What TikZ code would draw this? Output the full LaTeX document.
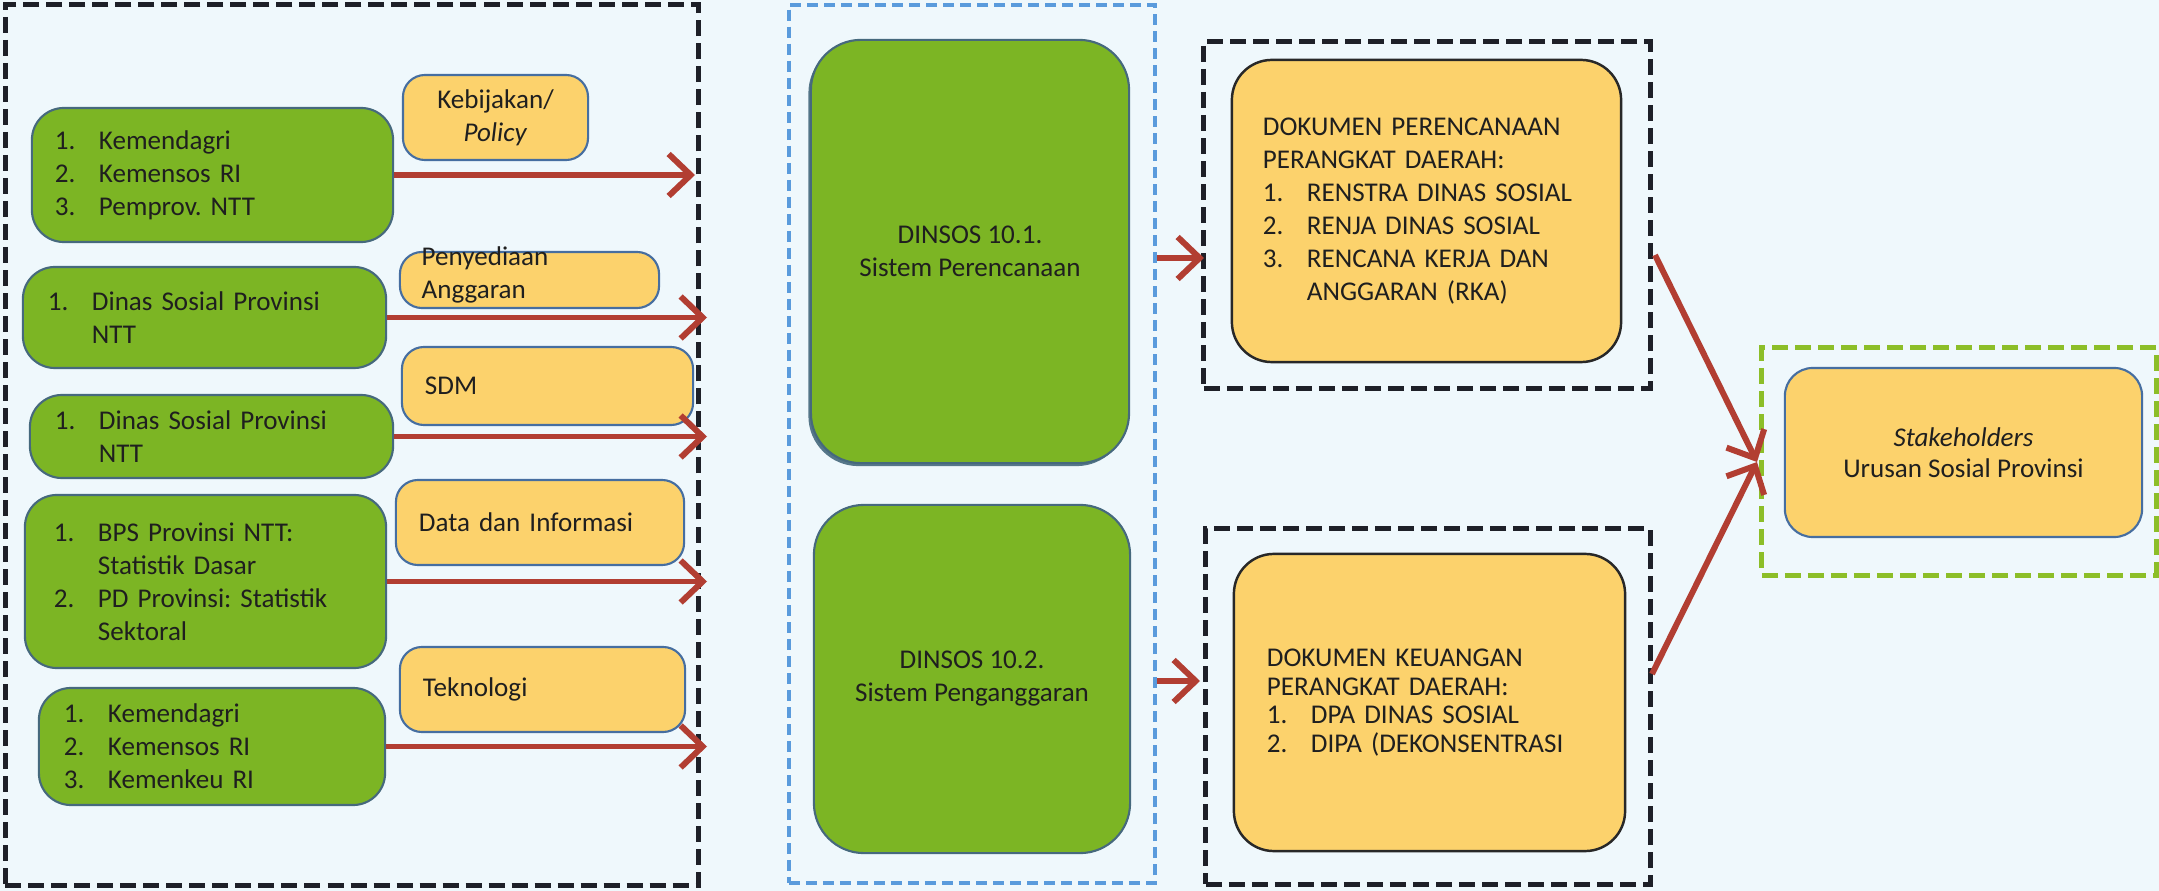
\documentclass[tikz,border=0pt]{standalone}
\usepackage{fontspec}
\setmainfont{Carlito}
\usetikzlibrary{arrows.meta,shadows}
\definecolor{bgc}{RGB}{239,248,252}
\definecolor{gfill}{RGB}{124,181,36}
\definecolor{gline}{RGB}{70,105,125}
\definecolor{yfill}{RGB}{252,210,108}
\definecolor{yline}{RGB}{70,110,160}
\definecolor{docline}{RGB}{40,40,40}
\definecolor{arrowc}{RGB}{178,62,50}
\definecolor{dashk}{RGB}{30,32,40}
\definecolor{dashb}{RGB}{90,155,220}
\definecolor{dashg}{RGB}{140,190,40}
\newcommand\txt{\fontsize{7.7}{9.4}\selectfont}
\newcommand\itm[2]{\makebox[0.44cm][l]{#1}#2}
\newcommand\cnt[1]{\hspace*{0.44cm}#1}
\frenchspacing

\begin{document}
\begin{tikzpicture}
        [x=0.01cm,y=-0.01cm,
        every node/.style={inner sep=0,font=\txt,text=black!88},
        src/.style={draw=gline,fill=gfill,line width=0.6pt,rounded corners=0.32cm,align=left},
        tag/.style={draw=yline,fill=yfill,line width=0.6pt,rounded corners=0.22cm,align=left},
        sys/.style={draw=gline,fill=gfill,line width=0.6pt,rounded corners=0.5cm,align=center},
        doc/.style={draw=docline,fill=yfill,line width=0.7pt,rounded corners=0.4cm,align=left},
        wrap/.style={draw=#1,line width=1.4pt,dash pattern=on 0.16cm off 0.07cm},
        flow/.style={draw=arrowc,line width=1.7pt,-{Straight Barb[length=0.22cm,width=0.42cm]}}]

        \useasboundingbox (0,0) rectangle (2159,891);
        \fill[bgc] (0,0) rectangle (2159,891);

        \node[wrap=dashk,minimum width=6.925cm,minimum height=8.8cm] (srcFrame) at (351.75,445) {};
        \node[wrap=dashb,line width=1.1pt,dash pattern=on 0.11cm off 0.06cm,minimum width=3.66cm,minimum height=8.78cm] (sysFrame) at (972,444) {};
        \node[wrap=dashk,minimum width=4.46cm,minimum height=3.46cm] (planWrap) at (1427,215) {};
        \node[wrap=dashk,minimum width=4.44cm,minimum height=3.55cm] (finWrap) at (1428,706.5) {};
        \node[wrap=dashg,minimum width=3.94cm,minimum height=2.27cm] (stakeFrame) at (1959,461.5) {};

        \node[src,minimum height=1.34cm,inner xsep=0.23cm,text width=3.15cm] (srcA) at (212.5,175)
            {\itm{1.}{Kemendagri}\\\itm{2.}{Kemensos RI}\\\itm{3.}{Pemprov. NTT}};
        \node[src,minimum height=1.01cm,inner xsep=0.25cm,text width=3.13cm] (srcB) at (204.5,317.5)
            {\itm{1.}{Dinas Sosial Provinsi}\\\cnt{NTT}};
        \node[src,minimum height=0.83cm,inner xsep=0.25cm,text width=3.13cm] (srcC) at (211.5,436.5)
            {\itm{1.}{Dinas Sosial Provinsi}\\\cnt{NTT}};
        \node[src,minimum height=1.73cm,inner xsep=0.29cm,text width=3.03cm] (srcD) at (205.5,581.5)
            {\itm{1.}{BPS Provinsi NTT:}\\\cnt{Statistik Dasar}\\\itm{2.}{PD Provinsi: Statistik}\\\cnt{Sektoral}};
        \node[src,minimum height=1.17cm,inner xsep=0.25cm,text width=2.96cm] (srcE) at (212,746.5)
            {\itm{1.}{Kemendagri}\\\itm{2.}{Kemensos RI}\\\itm{3.}{Kemenkeu RI}};

        \node[tag,align=center,minimum width=1.85cm,minimum height=0.85cm] (kebBox) at (495.5,117.5) {Kebijakan/\\\textit{Policy}};
        \node[tag,minimum width=2.59cm,minimum height=0.56cm] (penyBox) at (529.5,280) {};
        \node[anchor=west,align=left] (penyTxt) at (421,275) {Penyediaan\\Anggaran};
        \node[tag,minimum height=0.78cm,inner xsep=0.23cm,text width=2.45cm] (sdmBox) at (547.5,386) {SDM};
        \node[tag,minimum height=0.85cm,inner xsep=0.23cm,text width=2.42cm] (dataBox) at (540,522.5) {Data dan Informasi};
        \node[tag,minimum height=0.85cm,inner xsep=0.23cm,text width=2.39cm] (tekBox) at (542.5,689.5) {Teknologi};

        \node[sys,drop shadow={shadow xshift=-0.025cm,shadow yshift=-0.03cm,fill=gline,opacity=0.9},minimum width=3.18cm,minimum height=4.23cm] (plan) at (970,251.5) {DINSOS 10.1.\\Sistem Perencanaan};
        \node[sys,minimum width=3.16cm,minimum height=3.48cm] (budget) at (972,679) {DINSOS 10.2.\\Sistem Penganggaran};

        \node[doc,minimum height=3.02cm,inner xsep=0.31cm,text width=3.27cm] (planDoc) at (1426.5,211)
            {DOKUMEN PERENCANAAN\\PERANGKAT DAERAH:\\\itm{1.}{RENSTRA DINAS SOSIAL}\\\itm{2.}{RENJA DINAS SOSIAL}\\\itm{3.}{RENCANA KERJA DAN}\\\cnt{ANGGARAN (RKA)}};
        \node[doc,font=\fontsize{7.7}{8.1}\selectfont,minimum height=2.97cm,inner xsep=0.33cm,text width=3.25cm] (finDoc) at (1429.5,702.5)
            {DOKUMEN KEUANGAN\\PERANGKAT DAERAH:\\\itm{1.}{DPA DINAS SOSIAL}\\\itm{2.}{DIPA (DEKONSENTRASI}};

        \node[tag,align=center,rounded corners=0.28cm,font=\fontsize{7.7}{8.8}\selectfont,minimum width=3.57cm,minimum height=1.69cm] (stake) at (1963.5,452.5)
            {\textit{Stakeholders}\\Urusan Sosial Provinsi};

        \coordinate (inA) at (695,175);
        \coordinate (inB) at (707,317.5);
        \coordinate (inC) at (707,436.5);
        \coordinate (inD) at (707,581.5);
        \coordinate (inE) at (707,746.5);
        \coordinate (planIn) at (1204,258);
        \coordinate (finIn) at (1200,681);
        \coordinate (planOut) at (1655,255);
        \coordinate (finOut) at (1652,674);
        \coordinate (stakeIn) at (1757,462);

        \draw[flow] (srcA) -- (inA);
        \draw[flow] (srcB) -- (inB);
        \draw[flow] (srcC) -- (inC);
        \draw[flow] (srcD) -- (inD);
        \draw[flow] (srcE) -- (inE);
        \draw[flow] (sysFrame.east |- planIn) -- (planIn);
        \draw[flow] (sysFrame.east |- finIn) -- (finIn);
        \draw[flow] (planOut) -- (stakeIn);
        \draw[flow] (finOut) -- (stakeIn);
      \end{tikzpicture}
\end{document}
